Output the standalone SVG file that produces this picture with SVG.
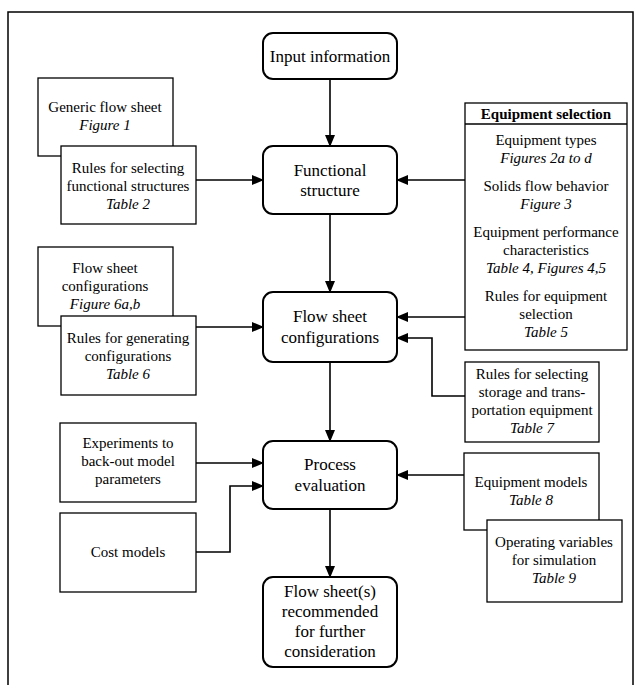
<svg xmlns="http://www.w3.org/2000/svg" width="637" height="685" viewBox="0 0 637 685" font-family="Liberation Serif, Times New Roman, Times, Tinos, DejaVu Serif, serif">
<defs>
<marker id="ah" markerWidth="12" markerHeight="10" refX="11" refY="5" orient="auto" markerUnits="userSpaceOnUse">
<path d="M0,0 L12,5 L0,10 Z" fill="#000"/>
</marker>
<style>
.frame{fill:none;stroke:#000;stroke-width:1.5}
.main{fill:#fff;stroke:#000;stroke-width:2}
.side{fill:#fff;stroke:#000;stroke-width:1.3}
.ca{fill:none;stroke:#000;stroke-width:1.6;marker-end:url(#ah)}
text{font-family:Liberation Serif, Times New Roman, Times, Tinos, DejaVu Serif, serif;fill:#000;text-anchor:middle}
.t17{font-size:17px}
.t15{font-size:15px}
.it{font-style:italic}
.b{font-weight:bold}
</style>
</defs>
<rect width="637" height="685" fill="#fff"/>
<path class="frame" d="M8,685 L8,12 L633,12 L633,685"/>

<g id="connectors">
<line class="ca" x1="330" y1="79" x2="330" y2="146"/>
<line class="ca" x1="330" y1="214" x2="330" y2="292"/>
<line class="ca" x1="330" y1="362" x2="330" y2="441"/>
<line class="ca" x1="330" y1="509" x2="330" y2="577"/>
<line class="ca" x1="196" y1="180" x2="263" y2="180"/>
<line class="ca" x1="196" y1="327" x2="263" y2="327"/>
<line class="ca" x1="196" y1="463" x2="263" y2="463"/>
<polyline class="ca" points="196,552 230,552 230,486 263,486"/>
<line class="ca" x1="465" y1="180" x2="397" y2="180"/>
<line class="ca" x1="465" y1="317" x2="397" y2="317"/>
<polyline class="ca" points="465,396 432,396 432,338 397,338"/>
<line class="ca" x1="464" y1="475" x2="397" y2="475"/>
</g>

<g id="input">
<rect class="main" x="263" y="33" width="134" height="46" rx="10"/>
<text class="t17" x="330" y="62">Input information</text>
</g>
<g id="functional">
<rect class="main" x="263" y="146" width="134" height="68" rx="10"/>
<text class="t17" x="330" y="176">Functional</text>
<text class="t17" x="330" y="196">structure</text>
</g>
<g id="flowconfig">
<rect class="main" x="263" y="292" width="134" height="70" rx="10"/>
<text class="t17" x="330" y="322">Flow sheet</text>
<text class="t17" x="330" y="343">configurations</text>
</g>
<g id="process">
<rect class="main" x="263" y="441" width="134" height="68" rx="10"/>
<text class="t17" x="330" y="470">Process</text>
<text class="t17" x="330" y="491">evaluation</text>
</g>
<g id="recommended">
<rect class="main" x="263" y="577" width="134" height="90" rx="10"/>
<text class="t17" x="330" y="597">Flow sheet(s)</text>
<text class="t17" x="330" y="617">recommended</text>
<text class="t17" x="330" y="637">for further</text>
<text class="t17" x="330" y="657">consideration</text>
</g>

<g id="generic">
<rect class="side" x="38" y="78" width="135" height="78"/>
<text class="t15" x="105" y="112">Generic flow sheet</text>
<text class="t15 it" x="105" y="130">Figure 1</text>
</g>
<g id="rules-functional">
<rect class="side" x="61" y="146" width="135" height="78"/>
<text class="t15" x="128" y="173">Rules for selecting</text>
<text class="t15" x="128" y="191">functional structures</text>
<text class="t15 it" x="128" y="209">Table 2</text>
</g>
<g id="flowsheet-configs">
<rect class="side" x="38" y="247" width="135" height="79"/>
<text class="t15" x="105" y="273">Flow sheet</text>
<text class="t15" x="105" y="291">configurations</text>
<text class="t15 it" x="105" y="309">Figure 6a,b</text>
</g>
<g id="rules-configs">
<rect class="side" x="61" y="316" width="135" height="79"/>
<text class="t15" x="128" y="343">Rules for generating</text>
<text class="t15" x="128" y="361">configurations</text>
<text class="t15 it" x="128" y="379">Table 6</text>
</g>
<g id="experiments">
<rect class="side" x="60" y="423" width="136" height="79"/>
<text class="t15" x="128" y="448">Experiments to</text>
<text class="t15" x="128" y="466">back-out model</text>
<text class="t15" x="128" y="484">parameters</text>
</g>
<g id="cost">
<rect class="side" x="60" y="513" width="136" height="79"/>
<text class="t15" x="128" y="557">Cost models</text>
</g>

<g id="equipment-selection">
<rect class="side" x="465" y="103" width="162" height="247"/>
<line class="side" x1="465" y1="124" x2="627" y2="124"/>
<text class="t15 b" x="546" y="119">Equipment selection</text>
<text class="t15" x="546" y="145">Equipment types</text>
<text class="t15 it" x="546" y="163">Figures 2a to d</text>
<text class="t15" x="546" y="191">Solids flow behavior</text>
<text class="t15 it" x="546" y="209">Figure 3</text>
<text class="t15" x="546" y="237">Equipment performance</text>
<text class="t15" x="546" y="255">characteristics</text>
<text class="t15 it" x="546" y="273">Table 4, Figures 4,5</text>
<text class="t15" x="546" y="301">Rules for equipment</text>
<text class="t15" x="546" y="319">selection</text>
<text class="t15 it" x="546" y="337">Table 5</text>
</g>
<g id="storage">
<rect class="side" x="465" y="362" width="134" height="80"/>
<text class="t15" x="532" y="379">Rules for selecting</text>
<text class="t15" x="532" y="397">storage and trans-</text>
<text class="t15" x="532" y="415">portation equipment</text>
<text class="t15 it" x="532" y="433">Table 7</text>
</g>
<g id="equipment-models">
<rect class="side" x="464" y="453" width="135" height="77"/>
<text class="t15" x="531" y="487">Equipment models</text>
<text class="t15 it" x="531" y="505">Table 8</text>
</g>
<g id="operating">
<rect class="side" x="487" y="520" width="135" height="82"/>
<text class="t15" x="554" y="547">Operating variables</text>
<text class="t15" x="554" y="565">for simulation</text>
<text class="t15 it" x="554" y="583">Table 9</text>
</g>
</svg>
